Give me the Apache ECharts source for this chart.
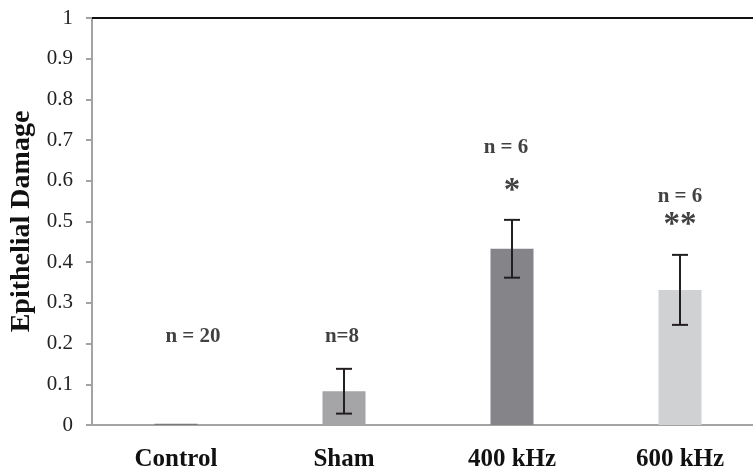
<!DOCTYPE html>
<html>
<head>
<meta charset="UTF-8">
<title>Epithelial Damage</title>
<script src="https://cdn.jsdelivr.net/npm/echarts@6/dist/echarts.min.js"></script>
<style>
  html, body { margin: 0; padding: 0; background: #fff; overflow: hidden; }
</style>
</head>
<body>
    <!-- plot runs past the right edge of the window, like the cropped original -->
    <div id="container" style="width: 770px; height: 474px;"></div>
    <script>

    // data
    var groups = ['Control', 'Sham', '400 kHz', '600 kHz'];
    var means = [0.003, 0.083, 0.433, 0.332];
    var errs = [0, 0.055, 0.071, 0.086];
    var barColors = ['#7a7a7c', '#a5a5a7', '#858589', '#d0d1d3'];
    var nLabels = ['n = 20', 'n=8', 'n = 6', 'n = 6'];
    var nHeights = [0.217, 0.217, 0.682, 0.562];
    var stars = ['', '', '*', '**'];
    var starHeights = [0, 0, 0.575, 0.49];

    var serif = '"Liberation Serif", "DejaVu Serif", serif';

    var mychart = echarts.init(document.getElementById("container"));

    var option = {
        animation: false,
        grid: { left: 92, top: 18, right: 6, height: 407, containLabel: false, outerBoundsMode: 'none' },
        xAxis: [{
            type: 'category',
            data: groups,
            axisLine: { lineStyle: { color: '#a3a3a3', width: 2 } },
            axisTick: { show: false },
            axisLabel: {
                fontFamily: serif, fontWeight: 'bold', fontSize: 25, color: '#111',
                margin: 22
            }
        }, {
            type: 'category',
            position: 'top',
            data: groups,
            axisLine: { lineStyle: { color: '#111', width: 2 } },
            axisTick: { show: false },
            axisLabel: { show: false }
        }],
        yAxis: {
            type: 'value',
            min: 0, max: 1, interval: 0.1,
            name: 'Epithelial Damage',
            nameLocation: 'middle',
            nameGap: 49,
            nameTextStyle: { fontFamily: serif, fontWeight: 'bold', fontSize: 28, color: '#111' },
            axisLine: { show: true, lineStyle: { color: '#a3a3a3', width: 2 } },
            axisTick: { show: true, length: 6, lineStyle: { color: '#a3a3a3', width: 2 } },
            axisLabel: { fontFamily: serif, fontSize: 21, color: '#222', margin: 19 },
            splitLine: { show: false }
        },
        series: [{
            type: 'bar',
            barWidth: 43,
            data: means.map(function (v, i) {
                return { value: v, itemStyle: { color: barColors[i] } };
            })
        }, {
            type: 'custom',
            data: means.map(function (v, i) { return [i, v - errs[i], v + errs[i]]; }),
            renderItem: function (params, api) {
                if (errs[params.dataIndex] === 0) return null;
                var lo = api.coord([api.value(0), api.value(1)]);
                var hi = api.coord([api.value(0), api.value(2)]);
                var half = 8;
                var st = { stroke: '#231f20', lineWidth: 2 };
                return {
                    type: 'group',
                    children: [
                        { type: 'line', shape: { x1: lo[0], y1: lo[1], x2: hi[0], y2: hi[1] }, style: st },
                        { type: 'line', shape: { x1: lo[0] - half, y1: lo[1], x2: lo[0] + half, y2: lo[1] }, style: st },
                        { type: 'line', shape: { x1: hi[0] - half, y1: hi[1], x2: hi[0] + half, y2: hi[1] }, style: st }
                    ]
                };
            },
            z: 5
        }, {
            type: 'scatter',
            symbolSize: 0,
            data: groups.map(function (g, i) {
                return {
                    value: [i, nHeights[i]],
                    label: { offset: [i === 0 ? 17 : (i === 1 ? -2 : (i === 2 ? -6 : 0)), 0] }
                };
            }),
            label: {
                show: true, position: 'inside',
                formatter: function (p) { return nLabels[p.dataIndex]; },
                fontFamily: serif, fontWeight: 'bold', fontSize: 21, color: '#111'
            },
            z: 6
        }, {
            type: 'scatter',
            symbolSize: 0,
            data: groups.map(function (g, i) { return [i, starHeights[i]]; }),
            label: {
                show: true, position: 'inside',
                formatter: function (p) { return stars[p.dataIndex]; },
                fontFamily: serif, fontWeight: 'bold', fontSize: 33, color: '#111'
            },
            z: 6
        }]
    };

    mychart.setOption(option);

    </script>
</body>
</html>
